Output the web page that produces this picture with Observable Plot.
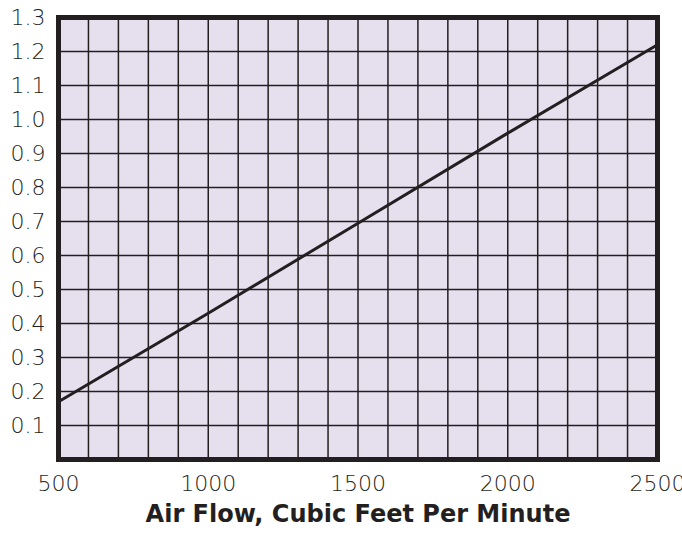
<!DOCTYPE html>
<html>
<head>
<meta charset="utf-8">
<script src="https://cdn.jsdelivr.net/npm/d3@7"></script>
<script src="https://cdn.jsdelivr.net/npm/@observablehq/plot@0.6"></script>
<style>
  html, body { margin: 0; padding: 0; background: #fff; }
</style>
</head>
<body>
<div id="chart"></div>
<script>
// Data
const airFlow = [500, 1000, 1500, 2000, 2500];          // CFM
const pressureDrop = [0.17, 0.43, 0.695, 0.96, 1.22];   // value on y
const xTickLabels = [500, 1000, 1500, 2000, 2500];
const yTickLabels = [0.1, 0.2, 0.3, 0.4, 0.5, 0.6, 0.7, 0.8, 0.9, 1.0, 1.1, 1.2, 1.3];
const xGrid = d3.range(500, 2501, 100);
const yGrid = d3.range(0, 14).map(i => i / 10);
const xTitle = "Air Flow, Cubic Feet Per Minute";

const rows = airFlow.map((x, i) => ({x, y: pressureDrop[i]}));

const ink = "#231f20";
const chart = Plot.plot({
  width: 682,
  height: 533,
  marginLeft: 58,
  marginRight: 25,
  marginTop: 17,
  marginBottom: 74,
  style: {fontFamily: "'DejaVu Sans', sans-serif", color: ink, background: "#fff"},
  x: {domain: [500, 2500]},
  y: {domain: [0, 1.3]},
  marks: [
    Plot.frame({fill: "#e6e0ee", stroke: null}),
    Plot.gridX(xGrid, {stroke: ink, strokeOpacity: 1, strokeWidth: 1.5}),
    Plot.gridY(yGrid, {stroke: ink, strokeOpacity: 1, strokeWidth: 1.5}),
    Plot.line(rows, {x: "x", y: "y", stroke: ink, strokeWidth: 3}),
    Plot.frame({stroke: ink, strokeWidth: 5}),
    Plot.axisY(yTickLabels, {tickSize: 0, tickPadding: 13, fontSize: 22, fontWeight: 200, tickFormat: d => d.toFixed(1), fill: ink, label: null}),
    Plot.axisX(xTickLabels, {tickSize: 0, tickPadding: 16, fontSize: 22, fontWeight: 200, tickFormat: d => String(d), fill: ink, label: null}),
    Plot.text([xTitle], {frameAnchor: "bottom", dy: 62, fontSize: 24, fontWeight: "bold", fill: ink})
  ]
});
document.getElementById("chart").appendChild(chart);
</script>
</body>
</html>
